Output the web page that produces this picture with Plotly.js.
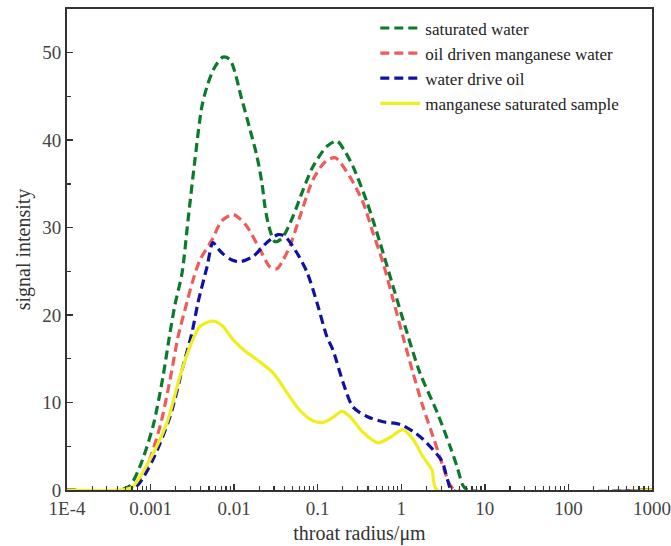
<!DOCTYPE html>
<html>
<head>
<meta charset="utf-8">
<script src="https://cdn.plot.ly/plotly-3.0.1.min.js"></script>
<style>html,body{margin:0;padding:0;background:#fff;}#chart{width:671px;height:546px;}</style>
</head>
<body>
<div id="chart"></div>
<script>
// throat radius (µm) and signal intensity
const satWaterX = [0.0001, 0.000431, 0.000568, 0.000747, 0.00107, 0.00141, 0.00171, 0.00196, 0.00238, 0.00281, 0.0034, 0.00412, 0.00487, 0.0059, 0.00736, 0.00892, 0.0124, 0.0155, 0.0188, 0.0215, 0.0234, 0.0261, 0.0308, 0.0374, 0.0506, 0.0667, 0.0879, 0.1292, 0.170, 0.212, 0.264, 0.389, 0.556, 0.796, 1.17, 1.67, 2.68, 3.83, 4.64, 5.48, 6.29, 1000];
const satWaterY = [0, 0, 0.5, 2.7, 7.3, 13, 18, 21.2, 24.8, 30.9, 37.8, 43.9, 46.5, 48.4, 49.5, 49.2, 44.6, 41.2, 38.1, 35.1, 32.4, 30.1, 28.4, 28.8, 31.3, 34.3, 37, 39.3, 39.9, 38.7, 37, 32.9, 28.3, 23.3, 18, 13.4, 8.9, 5, 2.7, 0.5, 0, 0];

const oilDrivenX = [0.0001, 0.000494, 0.000651, 0.000906, 0.0013, 0.00171, 0.00213, 0.00273, 0.00322, 0.0039, 0.00543, 0.00716, 0.00969, 0.01175, 0.0143, 0.0204, 0.0269, 0.0326, 0.0385, 0.0466, 0.0614, 0.0879, 0.1222, 0.161, 0.243, 0.348, 0.459, 0.604, 0.796, 1.05, 1.38, 1.82, 2.40, 3.16, 3.83, 4.40, 1000];
const oilDrivenY = [0, 0, 0.5, 2.7, 7.3, 12.6, 17.5, 21.5, 24, 26.3, 28.6, 30.8, 31.5, 31, 30.1, 27.5, 25.5, 25.3, 26.3, 27.9, 31.3, 35.5, 37.5, 38, 35.8, 32.9, 29.4, 26, 21.8, 17.5, 13.4, 9.5, 6.1, 2.7, 0.6, 0, 0];

const waterDriveX = [0.0001, 0.000537, 0.000707, 0.00107, 0.00171, 0.00244, 0.00313, 0.00369, 0.00473, 0.00558, 0.00641, 0.00736, 0.00942, 0.01175, 0.0168, 0.0247, 0.0335, 0.0406, 0.0565, 0.0745, 0.0981, 0.1292, 0.1524, 0.201, 0.264, 0.389, 0.604, 0.965, 1.38, 1.82, 2.40, 3.07, 3.62, 4.05, 1000];
const waterDriveY = [0, 0, 0.6, 3.5, 8.4, 14.1, 18, 21.4, 25.5, 28.3, 27.6, 27, 26.3, 26.1, 26.7, 28.3, 29.2, 29, 27.1, 24.9, 21.4, 17.5, 16, 12.3, 9.5, 8.4, 7.8, 7.5, 6.7, 5.8, 4.6, 3.3, 1, 0, 0];

const mnSampleX = [0.0001, 0.000431, 0.0006, 0.000984, 0.00157, 0.00225, 0.00296, 0.0039, 0.00558, 0.00716, 0.00969, 0.0135, 0.0188, 0.0292, 0.0385, 0.0565, 0.0809, 0.1125, 0.1524, 0.195, 0.243, 0.348, 0.526, 0.733, 1.05, 1.38, 1.82, 2.33, 2.68, 1000];
const mnSampleY = [0, 0, 0.3, 3.5, 7.7, 13, 16.4, 18.7, 19.3, 18.8, 17.2, 15.9, 14.9, 13.4, 11.8, 9.5, 8.1, 7.7, 8.3, 9, 8.4, 6.6, 5.4, 6, 6.9, 5.8, 3.8, 2.3, 0, 0];

const seriesNames = ['saturated water', 'oil driven manganese water', 'water drive oil', 'manganese saturated sample'];
const xTickVals = [0.0001, 0.001, 0.01, 0.1, 1, 10, 100, 1000];
const xTickText = ['1E-4', '0.001', '0.01', '0.1', '1', '10', '100', '1000'];
const xMinorVals = [];
for (let e = -4; e < 3; e++) { for (let m = 2; m <= 9; m++) xMinorVals.push(m * Math.pow(10, e)); }
const yTickVals = [0, 10, 20, 30, 40, 50];
const yMinorVals = [5, 15, 25, 35, 45];

const serif = 'Liberation Serif, Times New Roman, serif';
const dashPat = '9px,5px';

const traces = [
  {x: satWaterX, y: satWaterY, name: seriesNames[0], mode: 'lines',
   line: {color: '#0b7a2c', width: 3.2, dash: dashPat, shape: 'spline', smoothing: 0.8}},
  {x: oilDrivenX, y: oilDrivenY, name: seriesNames[1], mode: 'lines',
   line: {color: '#ef5b5b', width: 3.2, dash: dashPat, shape: 'spline', smoothing: 0.8}},
  {x: waterDriveX, y: waterDriveY, name: seriesNames[2], mode: 'lines',
   line: {color: '#1212a2', width: 3.2, dash: dashPat, shape: 'spline', smoothing: 0.8}},
  {x: mnSampleX, y: mnSampleY, name: seriesNames[3], mode: 'lines',
   line: {color: '#f0ef1e', width: 3.2, shape: 'spline', smoothing: 0.8}}
];

const layout = {
  width: 671, height: 546,
  margin: {l: 67, r: 19, t: 9, b: 56},
  paper_bgcolor: '#fff', plot_bgcolor: '#fff',
  font: {family: serif, color: '#333', size: 18},
  showlegend: true,
  legend: {x: 0.527, y: 0.997, xanchor: 'left', yanchor: 'top',
           bgcolor: 'rgba(0,0,0,0)', borderwidth: 0,
           font: {family: serif, size: 17, color: '#222'},
           itemwidth: 40, tracegroupgap: 0},
  xaxis: {
    type: 'log', range: [-4, 3],
    tickmode: 'array', tickvals: xTickVals, ticktext: xTickText,
    ticks: 'inside', ticklen: 6, tickwidth: 1.5, tickcolor: '#333',
    minor: {tickmode: 'array', tickvals: xMinorVals, ticks: 'inside', ticklen: 4, tickwidth: 1.2, tickcolor: '#333'},
    showline: true, linecolor: '#333', linewidth: 2, mirror: true,
    showgrid: false, zeroline: false,
    tickfont: {family: serif, size: 19, color: '#444'},
    title: {text: 'throat radius/μm', font: {family: serif, size: 20, color: '#333'}, standoff: 8}
  },
  yaxis: {
    range: [0, 55],
    tickmode: 'array', tickvals: yTickVals,
    ticks: 'inside', ticklen: 6, tickwidth: 1.5, tickcolor: '#333',
    minor: {tickmode: 'array', tickvals: yMinorVals, ticks: 'inside', ticklen: 4, tickwidth: 1.2, tickcolor: '#333'},
    showline: true, linecolor: '#333', linewidth: 2, mirror: true,
    showgrid: false, zeroline: false,
    tickfont: {family: serif, size: 19, color: '#444'},
    title: {text: 'signal intensity', font: {family: serif, size: 20, color: '#333'}, standoff: 6}
  }
};

Plotly.newPlot('chart', traces, layout, {staticPlot: true, displayModeBar: false});
</script>
</body>
</html>
